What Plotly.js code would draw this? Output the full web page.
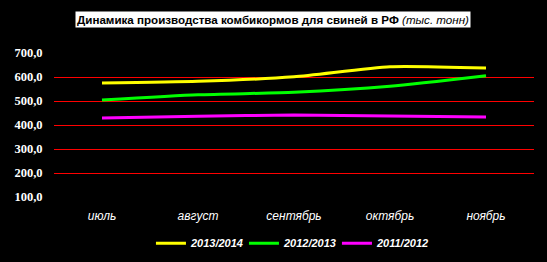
<!DOCTYPE html>
<html><head><meta charset="utf-8">
<script src="https://cdn.plot.ly/plotly-3.0.1.min.js"></script>
<style>html,body{margin:0;padding:0;background:#000;}#c{width:547px;height:262px;}</style>
</head><body><div id="c"></div>
<script>
const months = ['июль','август','сентябрь','октябрь','ноябрь'];
const s2013 = [575, 582, 601, 643, 637];
const s2012 = [504, 526, 536, 561, 605];
const s2011 = [429, 436, 442, 437, 433];
const seriesNames = ['2013/2014','2012/2013','2011/2012'];
const colors = ['#ffff00','#00ff00','#ff00ff'];
const yTicks = [100,200,300,400,500,600,700];

const data = [s2013, s2012, s2011].map((v,i)=>({
  x: months, y: v, type:'scatter', mode:'lines', name: seriesNames[i],
  line:{color:colors[i], width:3, shape:'spline', smoothing:0.6}
}));

const layout = {
  width:547, height:262,
  paper_bgcolor:'#000', plot_bgcolor:'#000',
  margin:{l:54, r:13, t:53, b:65, autoexpand:false},
  separators:', ',
  showlegend:true,
  legend:{orientation:'h', xref:'container', x:0.531, xanchor:'center', yref:'container', y:0.072, yanchor:'middle',
    font:{family:'Liberation Sans, Arial', size:11, color:'#fff', weight:'bold', style:'italic'},
    itemwidth:30, entrywidth:48, bgcolor:'rgba(0,0,0,0)', traceorder:'normal'},
  xaxis:{type:'category', showgrid:false, zeroline:false,
    showline:true, linecolor:'#000', linewidth:2,
    ticks:'outside', ticklen:7, tickcolor:'#000',
    tickfont:{family:'Liberation Sans, Arial', size:12, color:'#fff', style:'italic'},
    range:[-0.5, 4.5]},
  yaxis:{range:[100,700], tickvals:yTicks, tickformat:'.1f',
    showgrid:true, gridcolor:'#ff0000', gridwidth:1, zeroline:false,
    ticks:'outside', ticklen:8, tickcolor:'#000',
    tickfont:{family:'"Liberation Serif", "Times New Roman", serif', size:12.5, color:'#fff', weight:'bold'}},
  annotations:[{
    xref:'paper', yref:'paper', x:0.457, y:1.23, xanchor:'center', yanchor:'middle',
    text:'<b>Динамика производства комбикормов для свиней в РФ</b> <i>(тыс. тонн)</i>',
    showarrow:false, bgcolor:'#fff', borderpad:1,
    font:{family:'Liberation Sans, Arial', size:11.6, color:'#000'}
  }]
};
Plotly.newPlot('c', data, layout, {displayModeBar:false, staticPlot:true});
</script></body></html>
